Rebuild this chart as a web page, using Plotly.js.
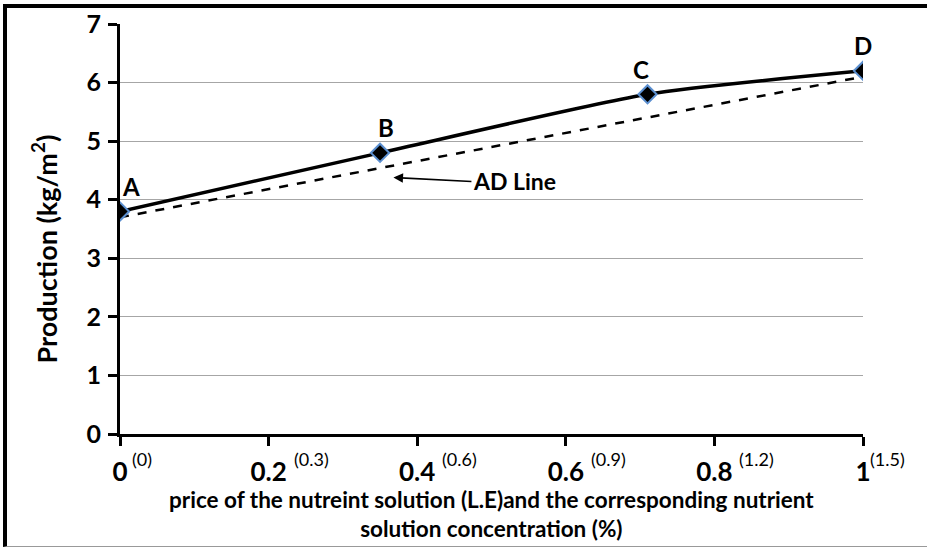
<!DOCTYPE html>
<html>
<head>
<meta charset="utf-8">
<script src="https://cdn.plot.ly/plotly-3.0.1.min.js"></script>
<style>
  html, body { margin: 0; padding: 0; background: #fff; }
  #wrap { position: relative; width: 927px; height: 550px; overflow: hidden; }
  #chart { width: 927px; height: 550px; }
  #frame { position: absolute; left: 3px; top: 4px; width: 1000px; height: 543px; z-index: 10;
           border-left: 4px solid #000; border-top: 4px solid #000;
           border-bottom: 1px solid #999; pointer-events: none; box-sizing: border-box; }
</style>
</head>
<body>
<div id="wrap">
  <div id="chart"></div>
  <div id="frame"></div>
</div>
<script>
// Data
const pointLabels = ["A", "B", "C", "D"];
const priceX = [0, 0.35, 0.71, 1];
const production = [3.8, 4.8, 5.8, 6.2];
const adLineX = [0, 1];
const adLineY = [3.7, 6.1];
const xTickVals = [0, 0.2, 0.4, 0.6, 0.8, 1];
const xTickText = ["0", "0.2", "0.4", "0.6", "0.8", "1"];
const xTickSup = ["(0)", "(0.3)", "(0.6)", "(0.9)", "(1.2)", "(1.5)"];
const yTickVals = [0, 1, 2, 3, 4, 5, 6, 7];

const FONT = "Lato, 'Open Sans', 'DejaVu Sans', sans-serif";

const traces = [
  {
    x: adLineX, y: adLineY, mode: "lines", type: "scatter",
    line: { color: "#000", width: 2.5, dash: "dash" },
    hoverinfo: "skip", showlegend: false
  },
  {
    x: priceX, y: production, mode: "lines+markers", type: "scatter",
    line: { color: "#000", width: 3.5, shape: "spline", smoothing: 0.6 },
    marker: { symbol: "diamond", size: 14, color: "#000", line: { color: "#5b8fd0", width: 2 } },
    showlegend: false
  }
];

const labelShift = [[11, 0], [6, 0], [-7, 0], [0, 0]];
const annotations = [];
pointLabels.forEach((t, i) => {
  annotations.push({
    x: priceX[i], y: production[i], xref: "x", yref: "y", text: "<b>" + t + "</b>",
    showarrow: false, xshift: labelShift[i][0], yshift: 25,
    font: { family: FONT, size: 24, color: "#000" }
  });
});
xTickVals.forEach((v, i) => {
  annotations.push({
    x: v, y: 0, xref: "x", yref: "y", text: xTickSup[i], showarrow: false,
    xanchor: "left", yanchor: "middle", xshift: (i === 0 ? 10 : (i === 5 ? 5 : 23)), yshift: -25,
    font: { family: FONT, size: 18, color: "#000" }
  });
});
annotations.push({
  x: 0.368, y: 4.38, xref: "x", yref: "y", text: "<b>AD Line</b>",
  showarrow: true, ax: 78, ay: 4, xanchor: "left", yanchor: "middle",
  arrowhead: 2, arrowsize: 1.2, arrowwidth: 1.6, arrowcolor: "#000",
  font: { family: FONT, size: 23, color: "#000" }
});
annotations.push({
  x: 0.5, y: 0, xref: "paper", yref: "paper",
  text: "<b>price of the nutreint solution (L.E)and the corresponding nutrient<br>solution concentration (%)</b>",
  showarrow: false, xanchor: "center", yanchor: "top", yshift: -50,
  font: { family: FONT, size: 22.5, color: "#000" }
});
annotations.push({
  x: 0, y: 0.45, xref: "paper", yref: "paper",
  text: "<b>Production (kg/m<sup>2</sup>)</b>", textangle: -90,
  showarrow: false, xanchor: "center", yanchor: "middle", xshift: -76,
  font: { family: FONT, size: 27, color: "#000" }
});

const layout = {
  width: 927, height: 550,
  margin: { l: 120, r: 64, t: 24, b: 116 },
  paper_bgcolor: "#fff", plot_bgcolor: "#fff",
  font: { family: FONT, color: "#000" },
  showlegend: false,
  xaxis: {
    range: [0, 1], tickvals: xTickVals, ticktext: xTickText,
    showgrid: false, zeroline: false,
    showline: true, linecolor: "#000", linewidth: 3,
    ticks: "outside", ticklen: 9, tickwidth: 3, tickcolor: "#000",
    tickfont: { family: FONT, size: 26, color: "#000", weight: "bold" },
    ticklabelstandoff: 4
  },
  yaxis: {
    range: [0, 7], tickvals: yTickVals,
    showgrid: true, gridcolor: "#a6a6a6", gridwidth: 1, zeroline: false,
    showline: true, linecolor: "#000", linewidth: 3,
    ticks: "outside", ticklen: 9, tickwidth: 3, tickcolor: "#000",
    tickfont: { family: FONT, size: 25, color: "#000", weight: "bold" },
    ticklabelstandoff: 2
  },
  annotations: annotations
};

Plotly.newPlot("chart", traces, layout, { staticPlot: true, displayModeBar: false });
</script>
</body>
</html>
